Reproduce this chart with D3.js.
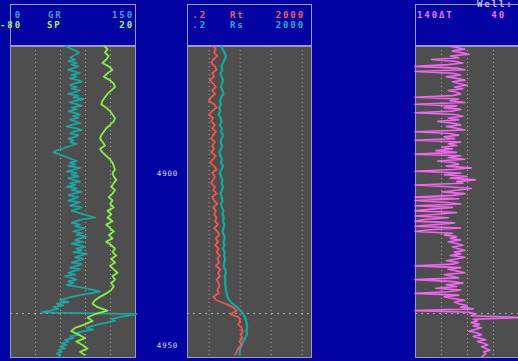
<!DOCTYPE html>
<html>
<head>
<meta charset="utf-8">
<script src="https://cdn.jsdelivr.net/npm/d3@7"></script>
<style>
  html, body { margin: 0; padding: 0; background: #0404a4; }
  svg { display: block; }
  .hdr { font-family: "DejaVu Sans Mono", monospace; font-weight: bold; font-size: 9px; letter-spacing: 1.9px; }
  .depth { font-family: "DejaVu Sans Mono", monospace; font-size: 7.5px; letter-spacing: 0.8px; fill: #d8d8f0; }
</style>
</head>
<body>
<svg id="log" width="518" height="361"></svg>
<script>
// Depth sampling
const depthTop = 4863;
const fineStep = 0.5;   // GR and ΔT
const coarseStep = 1;   // SP, Rt, Rs
const depthLabels = [4900, 4950];
const markerDepth = 4940.7;

// Gamma ray (API), 0.5 ft samples from 4863
const grValues = [
  66, 70, 74, 79, 83, 80, 76, 72, 78, 70,
  80, 74, 82, 76, 70, 78, 84, 74, 80, 72,
  82, 86, 76, 72, 80, 74, 84, 78, 70, 82,
  76, 88, 78, 72, 80, 86, 74, 80, 70, 78,
  84, 76, 82, 72, 78, 84, 74, 68, 80, 86,
  76, 72, 82, 78, 70, 76, 72, 80, 74, 68,
  62, 55, 52, 58, 64, 70, 74, 80, 72, 78,
  70, 84, 76, 68, 80, 74, 82, 70, 76, 84,
  72, 78, 68, 80, 74, 86, 76, 70, 82, 76,
  70, 84, 78, 72, 86, 80, 74, 82, 88, 96,
  102, 86, 80, 74, 84, 78, 90, 82, 76, 86,
  80, 92, 84, 78, 88, 74, 82, 90, 80, 86,
  76, 92, 84, 78, 88, 82, 74, 86, 80, 72,
  84, 76, 70, 78, 66, 74, 80, 70, 76, 68,
  80, 90, 100, 108, 96, 84, 74, 66, 60, 70,
  56, 64, 52, 58, 48, 38, 152, 140, 130, 122,
  126, 116, 106, 98, 92, 100, 88, 80, 84, 72,
  76, 66, 70, 62, 68, 60, 66, 58, 62, 56,
  60, 58
];

// Spontaneous potential (mV), 1 ft samples from 4863
const spValues = [
  -5, -2, -4, -1, -3, -6, -1, 2, -2, -5,
  0, 3, 4, 1, -2, -4, -6, -7, -3, 0,
  2, 4, 3, 0, -3, -5, -7, -8, -6, -4,
  -8, -6, -3, 0, 2, 3, 4, 2, 3, 5,
  3, 1, 4, 2, -1, 2, 0, 3, -2, 1,
  -2, 2, -3, 0, 3, -1, 2, -3, 1, 4,
  2, 5, 1, 4, 0, 3, 6, 2, 4, 1,
  3, 1, -3, -8, -12, -14, -10, -2, -12, -18,
  -14, -20, -28, -31, -25, -20, -27, -22, -18, -24,
  -20
];

// True resistivity Rt (ohm-m), 1 ft samples from 4863
const rtValues = [
  1.3, 1.7, 1.5, 1.9, 1.4, 1.2, 1.6, 1.8, 1.3, 1.5,
  1.1, 1.4, 1.7, 1.3, 1.6, 1.2, 1.0, 1.5, 1.8, 1.3,
  1.0, 1.4, 1.2, 1.6, 1.3, 1.7, 1.4, 1.2, 1.6, 1.3,
  1.5, 1.2, 1.7, 1.4, 1.1, 1.5, 1.8, 1.3, 1.6, 1.4,
  1.2, 1.6, 1.4, 1.8, 1.3, 1.5, 1.9, 1.4, 1.7, 1.5,
  1.8, 1.6, 2.0, 1.5, 1.9, 2.2, 1.7, 2.0, 1.6, 2.1,
  1.8, 2.3, 1.9, 2.2, 1.7, 2.4, 2.0, 2.3, 1.8, 2.1,
  2.2, 1.9, 2.1, 1.4, 1.8, 3.5, 6.0, 8.0, 5.0, 9.5,
  10.5, 9.0, 11.5, 12.5, 11.0, 12.0, 10.0, 11.5, 9.0, 8.0,
  7.0
];

// Shallow resistivity Rs (ohm-m), 1 ft samples from 4863
const rsValues = [
  2.5, 2.8, 3.2, 3.6, 3.3, 2.9, 2.6, 2.8, 2.4, 2.6,
  2.9, 2.7, 2.5, 2.8, 3.0, 2.6, 2.3, 2.5, 2.2, 2.4,
  2.1, 2.4, 2.6, 2.3, 2.7, 2.5, 2.9, 2.6, 2.4, 2.7,
  2.5, 2.2, 2.4, 2.7, 2.5, 2.9, 2.6, 2.3, 2.5, 2.8,
  2.6, 2.9, 2.7, 2.4, 2.6, 2.8, 2.5, 2.7, 3.0, 2.8,
  3.1, 2.9, 3.2, 3.0, 2.8, 3.1, 3.3, 3.0, 3.2, 2.9,
  3.3, 3.1, 3.4, 3.2, 3.0, 3.4, 3.6, 3.3, 3.5, 3.4,
  3.5, 3.6, 3.8, 4.0, 4.6, 6.0, 8.0, 10.5, 13.0, 15.0,
  16.0, 17.0, 17.5, 16.5, 17.0, 15.0, 13.0, 11.5, 10.5, 10.0,
  10.0
];

// Sonic transit time ΔT (us/ft), 0.5 ft samples from 4863
const dtValues = [
  110, 100, 92, 104, 96, 88, 106, 98, 124, 102,
  94, 108, 140, 100, 92, 140, 104, 96, 110, 100,
  92, 104, 98, 90, 102, 94, 108, 100, 96, 104,
  140, 98, 106, 92, 140, 100, 112, 96, 104, 140,
  102, 94, 108, 98, 118, 104, 96, 110, 100, 92,
  140, 106, 98, 112, 102, 140, 96, 108, 100, 114,
  104, 120, 100, 140, 96, 108, 92, 118, 102, 98,
  110, 86, 104, 140, 96, 112, 90, 106, 82, 100,
  94, 140, 108, 86, 100, 114, 92, 104, 140, 98,
  140, 112, 96, 140, 104, 124, 140, 100, 118, 140,
  108, 130, 140, 102, 120, 140, 96, 126, 140, 104,
  112, 100, 106, 96, 108, 100, 94, 104, 98, 92,
  102, 96, 106, 92, 100, 110, 98, 104, 140, 96,
  108, 100, 92, 112, 104, 98, 140, 106, 94, 110,
  100, 120, 96, 108, 140, 98, 112, 104, 92, 102,
  98, 90, 96, 84, 140, 88, 82, 86, 38, 84,
  80, 86, 78, 84, 76, 82, 88, 80, 76, 84,
  78, 72, 80, 74, 70, 76, 72, 68, 74, 72,
  74, 76
];

// Header scale labels
const grLabels = ["0", "GR", "150"];
const spLabels = ["-80", "SP", "20"];
const rtLabels = [".2", "Rt", "2000"];
const rsLabels = [".2", "Rs", "2000"];
const dtLabels = ["140\u0394T", "40"];
const wellLabel = "Well:";

const svg = d3.select("#log");
const W = 518, H = 361;

const col = {
  bg: "#0404a4", panel: "#4e4e4e", frame: "#9a9ac8",
  grid: "#b8a8a8", gr: "#1fa3a3", sp: "#84f048",
  rt: "#f05656", rs: "#14aaa0", dt: "#f068f0"
};

svg.append("rect").attr("width", W).attr("height", H).attr("fill", col.bg);

const hdrTop = 4, hdrBottom = 45, dataTop = 46, dataBottom = 357;

const y = d3.scaleLinear().domain([4900, 4950]).range([173, 345]);

const tracks = [
  { id: "t1", x0: 10, x1: 135 },
  { id: "t2", x0: 187, x1: 311 },
  { id: "t3", x0: 415, x1: 519 }
];

const xGR = d3.scaleLinear().domain([0, 150]).range([tracks[0].x0, tracks[0].x1]);
const xSP = d3.scaleLinear().domain([-80, 20]).range([tracks[0].x0, tracks[0].x1]);
const xRes = d3.scaleLog().domain([0.2, 2000]).range([tracks[1].x0, tracks[1].x1]);
const xDT = d3.scaleLinear().domain([140, 40]).range([tracks[2].x0, tracks[2].x1]);

const defs = svg.append("defs");

tracks.forEach(t => {
  // header box
  svg.append("rect")
    .attr("x", t.x0 + 0.5).attr("y", hdrTop + 0.5)
    .attr("width", t.x1 - t.x0).attr("height", hdrBottom - hdrTop)
    .attr("fill", col.bg).attr("stroke", col.frame).attr("stroke-width", 1);
  // data panel
  svg.append("rect")
    .attr("x", t.x0 + 0.5).attr("y", dataTop + 0.5)
    .attr("width", t.x1 - t.x0).attr("height", dataBottom - dataTop)
    .attr("fill", col.panel).attr("stroke", col.frame).attr("stroke-width", 1);
  defs.append("clipPath").attr("id", "clip-" + t.id)
    .append("rect")
    .attr("x", t.x0 - 2).attr("y", dataTop)
    .attr("width", t.x1 - t.x0 + 4).attr("height", dataBottom - dataTop);
});

// Vertical grid lines drawn from each track's scale ticks
function grid(scale, values) {
  svg.append("g")
    .attr("transform", `translate(0,${dataTop})`)
    .call(d3.axisBottom(scale).tickValues(values).tickSize(dataBottom - dataTop).tickFormat(""))
    .call(g => g.select(".domain").remove())
    .call(g => g.selectAll("line")
      .attr("stroke", col.grid).attr("stroke-width", 1)
      .attr("stroke-dasharray", "1,3"));
}
grid(xGR, [30, 60, 90, 120]);
grid(xRes, [1, 10, 100, 1000]);
grid(xDT, [115, 90, 65]);

// Marker depth line across all tracks
tracks.forEach(t => {
  svg.append("line")
    .attr("x1", t.x0).attr("x2", t.x1)
    .attr("y1", Math.round(y(markerDepth)) + 0.5).attr("y2", Math.round(y(markerDepth)) + 0.5)
    .attr("stroke", "#b0a8a8").attr("stroke-width", 1).attr("stroke-dasharray", "2,4");
});

// Curves
function curve(values, step, xs, color, width, clipId) {
  const pts = values.map((v, i) => ({ d: depthTop + i * step, v }));
  svg.append("path")
    .datum(pts)
    .attr("clip-path", clipId ? `url(#clip-${clipId})` : null)
    .attr("fill", "none")
    .attr("stroke", color)
    .attr("stroke-width", width)
    .attr("stroke-linejoin", "round")
    .attr("d", d3.line().x(p => xs(p.v)).y(p => y(p.d)));
}
curve(grValues, fineStep, xGR, col.gr, 1.8, null);
curve(spValues, coarseStep, xSP, col.sp, 1.8, null);
curve(rsValues, coarseStep, xRes, col.rs, 2.2, "t2");
curve(rtValues, coarseStep, xRes, col.rt, 1.8, "t2");
curve(dtValues, fineStep, xDT, col.dt, 1.6, "t3");

// Depth labels between tracks 1 and 2
svg.selectAll("text.depth")
  .data(depthLabels).enter().append("text")
  .attr("class", "depth")
  .attr("x", 167.5).attr("y", d => y(d))
  .attr("text-anchor", "middle").attr("dominant-baseline", "central")
  .text(d => d);

// Header labels
function hdrRow(labels, colors, yPos, xs) {
  labels.forEach((txt, i) => {
    svg.append("text").attr("class", "hdr")
      .attr("x", xs[i][0]).attr("y", yPos)
      .attr("text-anchor", xs[i][1])
      .attr("fill", colors[i])
      .text(txt);
  });
}
const row1 = 18, row2 = 28;
hdrRow(grLabels, ["#4c9ad0", "#4c9ad0", "#4c9ad0"], row1, [[22, "end"], [48, "start"], [134, "end"]]);
hdrRow(spLabels, ["#a8f070", "#a8f070", "#a8f070"], row2, [[22, "end"], [47, "start"], [134, "end"]]);
hdrRow(rtLabels, ["#f05a6a", "#f05a6a", "#f05a6a"], row1, [[207, "end"], [230, "start"], [305, "end"]]);
hdrRow(rsLabels, ["#34a8c8", "#34a8c8", "#34a8c8"], row2, [[207, "end"], [230, "start"], [305, "end"]]);
hdrRow(dtLabels, ["#f070f0", "#f070f0"], row1, [[417, "start"], [506, "end"]]);
svg.append("text").attr("class", "hdr")
  .attr("x", 477).attr("y", 7).attr("fill", "#c4c4e4")
  .text(wellLabel);
</script>
</body>
</html>
